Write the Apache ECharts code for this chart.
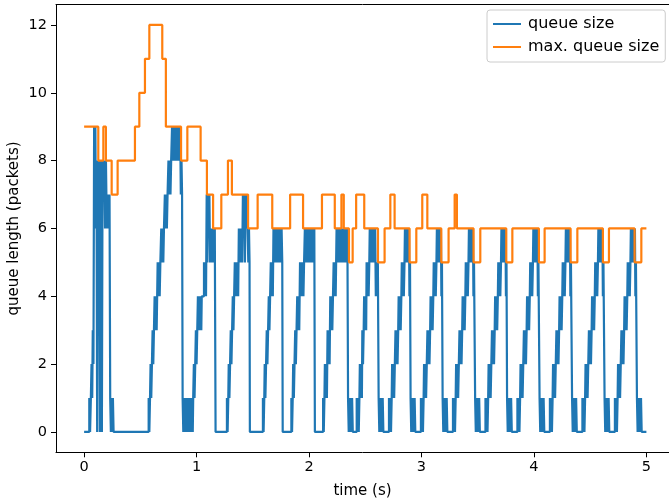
<!DOCTYPE html>
<html>
<head>
<meta charset="utf-8">
<script src="https://cdn.jsdelivr.net/npm/echarts@6/dist/echarts.min.js"></script>
<style>html,body{margin:0;padding:0;background:#fff}#c{width:669px;height:502px}</style>
</head>
<body>
<div id="c"></div>
<script>
// tick labels
const xTicks = [0, 1, 2, 3, 4, 5];
const yTicks = [0, 2, 4, 6, 8, 10, 12];
const seriesNames = ['queue size', 'max. queue size'];

// queue size, [time (s), packets], step-post
const queueWarmup = [[0,0],[0.046,1],[0.053,0],[0.06,1],[0.066,2],[0.072,1],[0.077,3],[0.083,2],[0.089,9],[0.095,6],[0.1,9],[0.105,6],[0.11,8],[0.116,0],[0.122,8],[0.128,6],[0.134,8],[0.14,0],[0.146,7],[0.152,8],[0.158,0],[0.164,8],[0.171,7],[0.178,8],[0.186,6],[0.194,8],[0.202,6],[0.21,7],[0.218,6],[0.226,7],[0.232,1],[0.238,0],[0.244,1],[0.25,0],[0.256,1],[0.262,0]];
const queueBigRise = [[0.574,1],[0.58,0],[0.586,1],[0.591,2],[0.597,1],[0.603,2],[0.609,3],[0.615,2],[0.621,3],[0.627,4],[0.633,3],[0.639,4],[0.645,3],[0.654,5],[0.66,4],[0.666,5],[0.672,4],[0.678,5],[0.686,6],[0.692,5],[0.698,6],[0.704,5],[0.71,6],[0.718,7],[0.724,6],[0.73,7],[0.736,6],[0.742,7],[0.75,8],[0.756,7],[0.762,8],[0.768,7],[0.774,8],[0.782,9],[0.788,8],[0.794,9],[0.8,8],[0.806,9],[0.812,8],[0.818,9],[0.824,8],[0.83,9],[0.836,8],[0.842,9],[0.848,8],[0.854,9],[0.86,7],[0.866,8],[0.871,7]];
const queueCycle1 = [[0.876,1],[0.882,0],[0.888,1],[0.894,0],[0.9,1],[0.906,0],[0.912,1],[0.918,0],[0.924,1],[0.93,0],[0.936,1],[0.942,0],[0.948,1],[0.954,0],[0.96,1],[0.966,0],[0.97,1],[0.976,2],[0.982,1],[0.988,2],[0.994,3],[1.0,2],[1.006,3],[1.012,4],[1.018,3],[1.024,4],[1.03,3],[1.036,4],[1.042,3],[1.046,4],[1.066,5],[1.072,4],[1.078,5],[1.084,4],[1.09,7],[1.096,5],[1.102,7],[1.108,6],[1.114,7],[1.12,5],[1.126,6],[1.132,5],[1.138,6],[1.144,5],[1.15,6],[1.156,5],[1.162,6]];
const queueCycle2 = [[1.169,0],[1.27,1],[1.276,0],[1.282,1],[1.286,2],[1.292,1],[1.298,2],[1.304,3],[1.31,2],[1.316,3],[1.322,4],[1.328,3],[1.334,4],[1.34,5],[1.346,4],[1.352,5],[1.358,4],[1.364,5],[1.37,4],[1.376,6],[1.382,5],[1.388,6],[1.394,5],[1.4,6],[1.406,5],[1.412,7],[1.418,6],[1.424,7],[1.43,5],[1.436,7],[1.442,6],[1.448,7],[1.454,6],[1.46,5],[1.466,6],[1.471,5]];
const queueCycle3 = [[1.474,0],[1.59,1],[1.596,0],[1.602,1],[1.606,2],[1.612,1],[1.618,2],[1.624,3],[1.63,2],[1.636,3],[1.642,4],[1.648,3],[1.654,4],[1.66,5],[1.666,4],[1.672,5],[1.678,4],[1.684,6],[1.69,5],[1.696,6],[1.702,5],[1.708,6],[1.714,5],[1.72,6],[1.726,5],[1.732,6],[1.738,5],[1.744,6],[1.75,5],[1.756,6],[1.762,5]];
const queueCycle4 = [[1.766,0],[1.843,1],[1.849,0],[1.855,1],[1.859,2],[1.865,1],[1.871,2],[1.877,3],[1.883,2],[1.889,3],[1.895,4],[1.901,3],[1.907,4],[1.913,3],[1.92,5],[1.926,4],[1.932,5],[1.938,4],[1.944,5],[1.95,4],[1.956,5],[1.963,6],[1.969,5],[1.975,6],[1.981,5],[1.987,6],[1.993,5],[1.999,6],[2.005,5],[2.011,6],[2.017,5],[2.023,6],[2.029,5],[2.035,6],[2.041,5],[2.047,6]];
const queueCycle5 = [[2.052,0],[2.125,1],[2.131,0],[2.137,1],[2.141,2],[2.147,1],[2.153,2],[2.159,1],[2.165,3],[2.171,2],[2.177,3],[2.183,2],[2.189,4],[2.195,3],[2.201,4],[2.207,3],[2.213,4],[2.219,5],[2.225,4],[2.231,5],[2.237,4],[2.245,6],[2.251,5],[2.257,6],[2.263,5],[2.269,6],[2.275,5],[2.281,6],[2.287,5],[2.293,6],[2.299,5],[2.305,6],[2.311,5],[2.317,6],[2.323,5],[2.329,6],[2.335,5],[2.341,6]];
const queueCycle6 = [[2.347,1],[2.353,0],[2.359,1],[2.365,0],[2.371,1],[2.377,0],[2.383,1],[2.389,0],[2.424,1],[2.43,0],[2.436,1],[2.442,0],[2.448,1],[2.452,2],[2.458,1],[2.464,2],[2.47,1],[2.474,3],[2.48,2],[2.486,3],[2.49,4],[2.496,3],[2.502,4],[2.508,3],[2.512,5],[2.518,4],[2.524,5],[2.53,4],[2.536,5],[2.54,6],[2.546,5],[2.552,6],[2.558,5],[2.564,6],[2.57,5],[2.576,6],[2.582,5],[2.588,6],[2.594,4],[2.6,5],[2.606,4],[2.612,5]];
const queueCycle7 = [[2.619,1],[2.625,0],[2.631,1],[2.637,0],[2.643,1],[2.649,0],[2.655,1],[2.661,0],[2.711,1],[2.717,0],[2.723,1],[2.729,0],[2.735,1],[2.739,2],[2.745,1],[2.751,2],[2.757,1],[2.763,2],[2.769,3],[2.775,2],[2.781,3],[2.787,2],[2.793,3],[2.797,4],[2.803,3],[2.809,4],[2.815,3],[2.821,4],[2.825,5],[2.831,4],[2.837,5],[2.843,4],[2.849,5],[2.853,6],[2.859,5],[2.865,6],[2.871,5],[2.877,6],[2.883,5],[2.889,6],[2.893,4],[2.898,5]];
const queueCycle8 = [[2.903,1],[2.909,0],[2.915,1],[2.921,0],[2.927,1],[2.933,0],[2.939,1],[2.945,0],[2.995,1],[3.001,0],[3.007,1],[3.013,0],[3.019,1],[3.023,2],[3.029,1],[3.035,2],[3.041,1],[3.047,2],[3.053,3],[3.059,2],[3.065,3],[3.071,2],[3.077,3],[3.081,4],[3.087,3],[3.093,4],[3.099,3],[3.105,4],[3.109,5],[3.115,4],[3.121,5],[3.127,4],[3.133,5],[3.137,6],[3.143,5],[3.149,6],[3.155,5],[3.161,6],[3.167,5],[3.173,6],[3.177,4],[3.182,5]];
const queueCycle9 = [[3.188,1],[3.194,0],[3.2,1],[3.206,0],[3.212,1],[3.218,0],[3.224,1],[3.23,0],[3.28,1],[3.286,0],[3.292,1],[3.298,0],[3.304,1],[3.308,2],[3.314,1],[3.32,2],[3.326,1],[3.332,2],[3.338,3],[3.344,2],[3.35,3],[3.356,2],[3.362,3],[3.366,4],[3.372,3],[3.378,4],[3.384,3],[3.39,4],[3.394,5],[3.4,4],[3.406,5],[3.412,4],[3.418,5],[3.422,6],[3.428,5],[3.434,6],[3.44,5],[3.446,6],[3.452,5],[3.458,6],[3.462,4],[3.467,5]];
const queueCycle10 = [[3.477,1],[3.483,0],[3.489,1],[3.495,0],[3.501,1],[3.507,0],[3.513,1],[3.519,0],[3.569,1],[3.575,0],[3.581,1],[3.587,0],[3.593,1],[3.597,2],[3.603,1],[3.609,2],[3.615,1],[3.621,2],[3.627,3],[3.633,2],[3.639,3],[3.645,2],[3.651,3],[3.655,4],[3.661,3],[3.667,4],[3.673,3],[3.679,4],[3.683,5],[3.689,4],[3.695,5],[3.701,4],[3.707,5],[3.711,6],[3.717,5],[3.723,6],[3.729,5],[3.735,6],[3.741,5],[3.747,6],[3.751,4],[3.756,5]];
const queueCycle11 = [[3.761,1],[3.767,0],[3.773,1],[3.779,0],[3.785,1],[3.791,0],[3.797,1],[3.803,0],[3.853,1],[3.859,0],[3.865,1],[3.871,0],[3.877,1],[3.881,2],[3.887,1],[3.893,2],[3.899,1],[3.905,2],[3.911,3],[3.917,2],[3.923,3],[3.929,2],[3.935,3],[3.939,4],[3.945,3],[3.951,4],[3.957,3],[3.963,4],[3.967,5],[3.973,4],[3.979,5],[3.985,4],[3.991,5],[3.995,6],[4.001,5],[4.007,6],[4.013,5],[4.019,6],[4.025,5],[4.031,6],[4.035,4],[4.04,5]];
const queueCycle12 = [[4.05,1],[4.056,0],[4.062,1],[4.068,0],[4.074,1],[4.08,0],[4.086,1],[4.092,0],[4.142,1],[4.148,0],[4.154,1],[4.16,0],[4.166,1],[4.17,2],[4.176,1],[4.182,2],[4.188,1],[4.194,2],[4.2,3],[4.206,2],[4.212,3],[4.218,2],[4.224,3],[4.228,4],[4.234,3],[4.24,4],[4.246,3],[4.252,4],[4.256,5],[4.262,4],[4.268,5],[4.274,4],[4.28,5],[4.284,6],[4.29,5],[4.296,6],[4.302,5],[4.308,6],[4.314,5],[4.32,6],[4.324,4],[4.329,5]];
const queueCycle13 = [[4.339,1],[4.345,0],[4.351,1],[4.357,0],[4.363,1],[4.369,0],[4.375,1],[4.381,0],[4.431,1],[4.437,0],[4.443,1],[4.449,0],[4.455,1],[4.459,2],[4.465,1],[4.471,2],[4.477,1],[4.483,2],[4.489,3],[4.495,2],[4.501,3],[4.507,2],[4.513,3],[4.517,4],[4.523,3],[4.529,4],[4.535,3],[4.541,4],[4.545,5],[4.551,4],[4.557,5],[4.563,4],[4.569,5],[4.573,6],[4.579,5],[4.585,6],[4.591,5],[4.597,6],[4.603,5],[4.609,6],[4.613,4],[4.618,5]];
const queueCycle14 = [[4.628,1],[4.634,0],[4.64,1],[4.646,0],[4.652,1],[4.658,0],[4.664,1],[4.67,0],[4.72,1],[4.726,0],[4.732,1],[4.738,0],[4.744,1],[4.748,2],[4.754,1],[4.76,2],[4.766,1],[4.772,2],[4.778,3],[4.784,2],[4.79,3],[4.796,2],[4.802,3],[4.806,4],[4.812,3],[4.818,4],[4.824,3],[4.83,4],[4.834,5],[4.84,4],[4.846,5],[4.852,4],[4.858,5],[4.862,6],[4.868,5],[4.874,6],[4.88,5],[4.886,6],[4.892,5],[4.898,6],[4.902,4],[4.907,5]];
const queueTail = [[4.916,1],[4.922,0],[4.928,1],[4.934,0],[4.94,1],[4.946,0],[4.952,1],[4.958,0],[5.0,0]];

// max. queue size, [time (s), packets], step-post
const maxQueueSize = [[0,9],[0.126,8],[0.171,9],[0.194,8],[0.245,7],[0.298,8],[0.452,9],[0.491,10],[0.541,11],[0.58,12],[0.695,11],[0.727,9],[0.862,8],[0.918,9],[1.036,8],[1.092,7],[1.147,6],[1.22,7],[1.279,8],[1.314,7],[1.458,6],[1.543,7],[1.673,6],[1.832,7],[1.947,6],[2.115,7],[2.229,6],[2.288,7],[2.309,6],[2.355,5],[2.388,6],[2.419,7],[2.491,6],[2.613,5],[2.672,6],[2.723,7],[2.761,6],[2.894,5],[2.954,6],[3.007,7],[3.052,6],[3.176,5],[3.241,6],[3.295,7],[3.315,6],[3.463,5],[3.523,6],[3.754,5],[3.808,6],[4.044,5],[4.095,6],[4.326,5],[4.386,6],[4.613,5],[4.667,6],[4.895,5],[4.955,6],[5.0,6]];

const queueSize = [].concat(queueWarmup, queueBigRise, queueCycle1, queueCycle2, queueCycle3, queueCycle4, queueCycle5, queueCycle6, queueCycle7, queueCycle8, queueCycle9, queueCycle10, queueCycle11, queueCycle12, queueCycle13, queueCycle14, queueTail);

const FONT = 'DejaVu Sans';
const chart = echarts.init(document.getElementById('c'), null, {renderer: 'canvas'});
const tickStyle = {fontFamily: FONT, fontSize: 14.5, color: '#000'};
chart.setOption({
  animation: false,
  backgroundColor: '#ffffff',
  grid: {left: 56, top: 4.6, right: 0, height: 447.7, containLabel: false, outerBoundsMode: 'none'},
  xAxis: [{
    type: 'value', min: -0.25, max: 5.201,
    name: 'time (s)', nameLocation: 'middle', nameGap: 31, nameMoveOverlap: false,
    nameTextStyle: {fontFamily: FONT, fontSize: 15, color: '#000'},
    axisLine: {show: true, onZero: false, lineStyle: {color: '#000', width: 1}},
    axisTick: {show: true, length: 5, lineStyle: {color: '#000'}, customValues: xTicks},
    axisLabel: Object.assign({margin: 7, customValues: xTicks, formatter: v => String(v)}, tickStyle),
    splitLine: {show: false}
  }, {
    type: 'value', position: 'top', min: -0.25, max: 5.201,
    axisLine: {show: true, onZero: false, lineStyle: {color: '#000', width: 1}},
    axisTick: {show: false}, axisLabel: {show: false}, splitLine: {show: false}
  }],
  yAxis: {
    type: 'value', min: -0.6, max: 12.6,
    name: 'queue length (packets)', nameLocation: 'middle', nameGap: 34, nameRotate: 90, nameMoveOverlap: false,
    nameTextStyle: {fontFamily: FONT, fontSize: 15, color: '#000'},
    axisLine: {show: true, onZero: false, lineStyle: {color: '#000', width: 1}},
    axisTick: {show: true, length: 5, lineStyle: {color: '#000'}, customValues: yTicks},
    axisLabel: Object.assign({margin: 9, customValues: yTicks, formatter: v => String(v)}, tickStyle),
    splitLine: {show: false}
  },
  legend: {
    data: seriesNames, orient: 'vertical', left: 487, top: 10,
    icon: 'rect', itemWidth: 28, itemHeight: 2, itemGap: 5,
    padding: [5, 6, 6, 6],
    backgroundColor: 'rgba(255,255,255,0.8)', borderColor: '#cccccc', borderWidth: 1, borderRadius: 3,
    textStyle: {fontFamily: FONT, fontSize: 16, lineHeight: 18, color: '#000', padding: [0, 0, 0, 2]}
  },
  series: [
    {name: seriesNames[0], type: 'line', step: 'end', data: queueSize, showSymbol: false, symbol: 'none',
     lineStyle: {color: '#1f77b4', width: 2.2}, itemStyle: {color: '#1f77b4'}, z: 2},
    {name: seriesNames[1], type: 'line', step: 'end', data: maxQueueSize, showSymbol: false, symbol: 'none',
     lineStyle: {color: '#ff7f0e', width: 2.2}, itemStyle: {color: '#ff7f0e'}, z: 3}
  ]
});
</script>
</body>
</html>
